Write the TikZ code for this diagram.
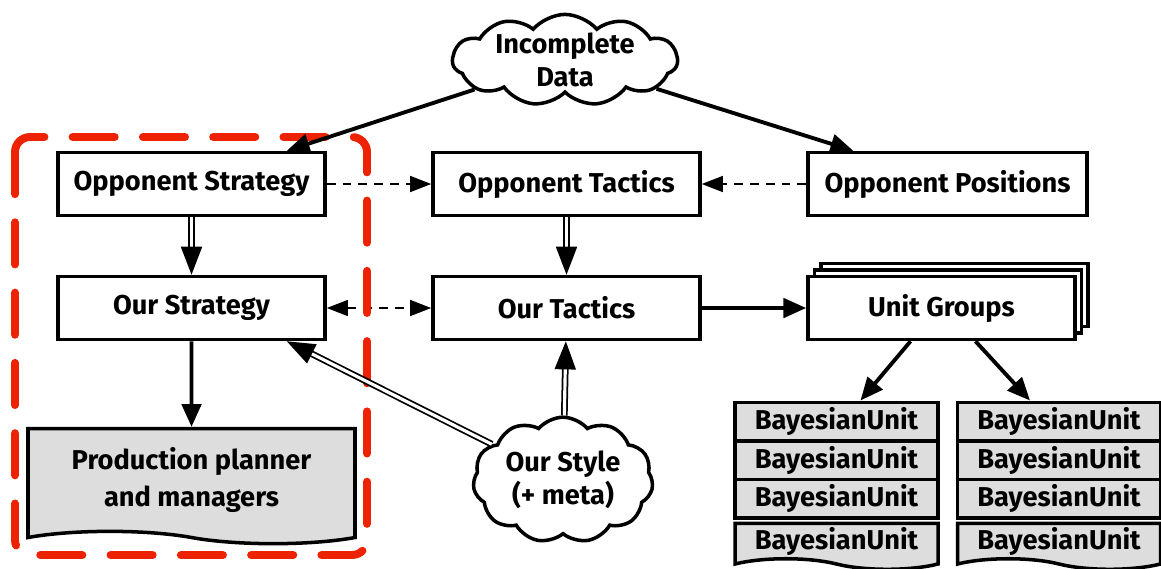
\documentclass[tikz,border=0pt]{standalone}
\usepackage{fontspec}
\setmainfont{Fira Sans}
\usetikzlibrary{arrows.meta,shapes.symbols,shadows}

\definecolor{unitgray}{RGB}{221,221,221}
\definecolor{focusred}{RGB}{236,34,0}
\newcommand{\lblfont}{\fontsize{15.5}{19}\selectfont\bfseries}

\tikzset{
  stage/.style={draw, line width=2pt, fill=white, minimum width=5.34cm, minimum height=1.26cm, font=\lblfont},
  thought/.style={cloud, draw, line width=2pt, fill=white, cloud puffs=11, cloud puff arc=100, aspect=2.6, inner sep=-3pt, align=center, font=\lblfont},
  unitrow/.style={draw, line width=2pt, fill=unitgray, minimum width=4.06cm, minimum height=0.77cm, inner sep=0pt, font=\lblfont},
  unitend/.style={tape, tape bend top=none, tape bend bottom=out and in, tape bend height=6pt, draw, line width=2pt, fill=unitgray, minimum width=4.06cm, minimum height=0.92cm, inner sep=0pt, font=\lblfont},
  flow/.style={line width=2.2pt, -{Triangle[length=13pt,width=11pt]}},
  link/.style={line width=1.2pt, dash pattern=on 5pt off 4pt, -{Triangle[length=12pt,width=9pt]}},
  feed/.style={double, double distance=1.8pt, line width=1pt, -{Triangle[length=16pt,width=12pt]}}
}

\begin{document}
\begin{tikzpicture}
  \useasboundingbox (0,0) rectangle (23.22,-11.36);
  % Data source
  \node[thought, minimum width=4.5cm, minimum height=1.8cm] (incdata) at (11.3,-1.2) {Incomplete\\Data};
  % Opponent model
  \node[stage] (oppstrat) at (3.83,-3.68) {Opponent Strategy};
  \node[stage] (opptac) at (11.33,-3.68) {Opponent Tactics};
  \node[stage, minimum width=5.58cm] (opppos) at (18.95,-3.68) {Opponent Positions};
  % Our side
  \node[stage] (ourstrat) at (3.83,-6.16) {Our Strategy};
  \node[stage] (ourtac) at (11.33,-6.16) {Our Tactics};
  \node[stage, double copy shadow={shadow xshift=0.13cm, shadow yshift=0.13cm}] (units) at (18.83,-6.16) {Unit Groups};
  \node[tape, tape bend top=none, tape bend bottom=out and in, tape bend height=7pt, draw, line width=2pt, fill=unitgray,
        minimum width=6.54cm, minimum height=2.3cm, align=center, font=\lblfont] (prod) at (3.83,-9.6) {Production planner\\[2pt]and managers};
  \node[thought, aspect=1.6, inner xsep=-4pt, inner ysep=5pt, minimum width=3.6cm, minimum height=2.0cm] (ourstyle) at (11.26,-9.6) {Our Style\\(+ meta)};
  % Bayesian units
  \node[unitrow] (bua1) at (16.73,-8.43) {BayesianUnit};
  \node[unitrow] (bua2) at (16.73,-9.2) {BayesianUnit};
  \node[unitrow] (bua3) at (16.73,-9.97) {BayesianUnit};
  \node[unitend] (bua4) at (16.73,-10.82) {BayesianUnit};
  \node[unitrow] (bub1) at (21.18,-8.43) {BayesianUnit};
  \node[unitrow] (bub2) at (21.18,-9.2) {BayesianUnit};
  \node[unitrow] (bub3) at (21.18,-9.97) {BayesianUnit};
  \node[unitend] (bub4) at (21.18,-10.82) {BayesianUnit};
  % Dashed links
  \draw[link] (oppstrat) -- (opptac);
  \draw[link] (opppos) -- (opptac);
  \draw[link, {Triangle[length=12pt,width=9pt]}-{Triangle[length=12pt,width=9pt]}] (ourstrat) -- (ourtac);
  % Strategic focus
  \draw[focusred, line width=4.5pt, line cap=round, dash pattern=on 24pt off 16pt, rounded corners=0.3cm]
    (0.3,-2.74) rectangle (7.34,-11.1);
  % Solid flows
  \draw[flow] (incdata) -- ([xshift=-0.8cm]oppstrat.north east);
  \draw[flow] (incdata) -- ([xshift=0.94cm]opppos.north west);
  \draw[flow] (ourstrat) -- (prod);
  \draw[flow] (ourtac) -- (units);
  \draw[flow] ([xshift=-0.62cm]units.south) -- ([xshift=0.48cm]bua1.north);
  \draw[flow] ([xshift=0.68cm]units.south) -- ([xshift=-0.58cm]bub1.north);
  % Influences
  \draw[feed] (oppstrat) -- (ourstrat);
  \draw[feed] (opptac) -- (ourtac);
  \draw[feed] (ourstyle) -- ([xshift=-0.8cm]ourstrat.south east);
  \draw[feed] (ourstyle) -- (ourtac);
\end{tikzpicture}
\end{document}
